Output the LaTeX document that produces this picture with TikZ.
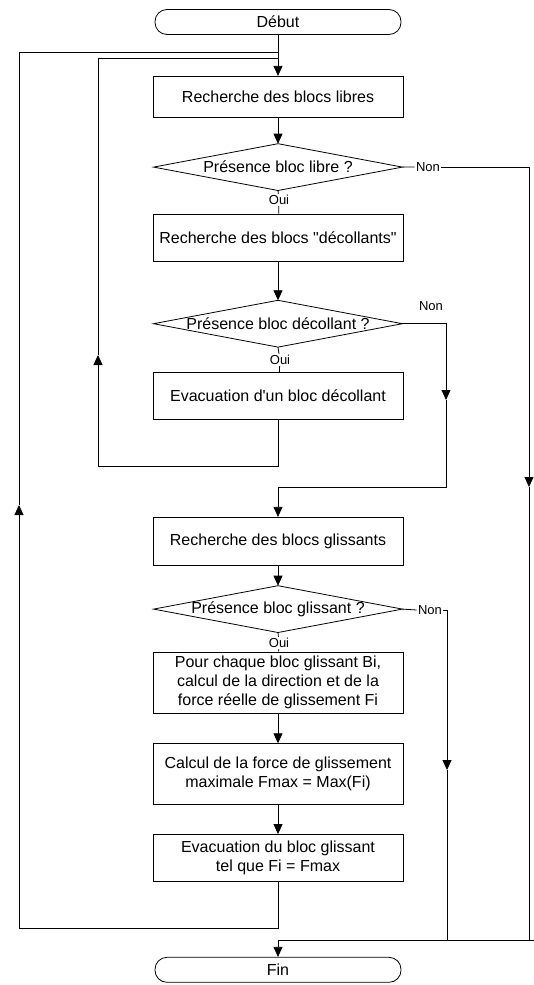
\documentclass[tikz,border=0pt]{standalone}
\usepackage{fontspec}
\setmainfont{Liberation Sans}[Ligatures=TeXOff]
\usepackage{tikz}
\usetikzlibrary{positioning, arrows.meta}

\begin{document}
\begin{tikzpicture}[x=1pt, y=-1pt, line width=0.8pt, >={Triangle[length=10pt,width=9pt]}]

		\tikzstyle{process} = [rectangle, draw, minimum width=250pt, minimum height=47pt, inner sep=3pt, align=center, font=\fontsize{16}{19}\selectfont]
		\tikzstyle{terminal} = [rectangle, draw, rounded corners=12pt, minimum width=246pt, minimum height=25pt, inner sep=2pt, font=\fontsize{16}{19}\selectfont]
		\tikzstyle{decision} = [rectangle, minimum width=248pt, minimum height=46pt, inner sep=0pt, font=\fontsize{16}{19}\selectfont]
		\tikzstyle{answer} = [inner sep=1pt, fill=white, font=\fontsize{13}{15}\selectfont]

		\useasboundingbox (0,0) rectangle (534,985);

		% Define nodes
		\node[terminal] (debut) at (278,22) {Début};
		\node[process, minimum height=41pt, below=41pt of debut] (libres) {Recherche des blocs libres};
		\node[decision, below=26pt of libres] (presLibre) {Présence bloc libre ?};
		\node[process, below=23pt of presLibre] (decollants) {Recherche des blocs "décollants"};
		\node[decision, below=39pt of decollants] (presDecol) {Présence bloc décollant ?};
		\node[process, below=25pt of presDecol] (evacDecol) {Evacuation d'un bloc décollant};
		\node[process, minimum height=48pt, below=97pt of evacDecol] (glissants) {Recherche des blocs glissants};
		\node[decision, below=20pt of glissants] (presGliss) {Présence bloc glissant ?};
		\node[process, minimum height=61pt, below=19pt of presGliss] (forces) {Pour chaque bloc glissant Bi,\\ calcul de la direction et de la\\ force réelle de glissement Fi};
		\node[process, minimum height=61pt, below=30pt of forces] (fmax) {Calcul de la force de glissement\\ maximale Fmax = Max(Fi)};
		\node[process, below=29pt of fmax] (evacGliss) {Evacuation du bloc glissant\\ tel que Fi = Fmax};
		\node[terminal, below=75pt of evacGliss] (fin) {Fin};

		% Diamonds
		\foreach \d in {presLibre, presDecol, presGliss}
			\draw (\d.west) -- (\d.north) -- (\d.east) -- (\d.south) -- cycle;

		% Labels
		\node[answer] (ouiLibre) at (279,200) {Oui};
		\node[answer] (ouiDecol) at (280,360) {Oui};
		\node[answer] (ouiGliss) at (279,643) {Oui};
		\node[answer] (nonLibre) at (428,167) {Non};
		\node[answer] (nonDecol) at (431,306) {Non};
		\node[answer] (nonGliss) at (430,610) {Non};

		% Corner points
		\coordinate (loopOut) at (19,52);
		\coordinate (loopIn) at (98,58);
		\coordinate (retDecol) at (98,466);
		\coordinate (upDecol) at (98,355);
		\coordinate (retGliss) at (19,928);
		\coordinate (upGliss) at (19,505);
		\coordinate (rightDown) at (529,487);
		\coordinate (rightBot) at (529,940);
		\coordinate (edgeBot) at (534,940);
		\coordinate (nonDecolDown) at (446,400);
		\coordinate (nonDecolBend) at (446,487);
		\coordinate (nonGlissDown) at (447,770);
		\coordinate (nonGlissBot) at (447,940);

		% Draw arrows
		\draw[->] (debut) -- (libres);
		\draw[->] (libres) -- (presLibre);
		\draw (presLibre.south) -- (ouiLibre) -- (decollants);
		\draw[->] (decollants) -- (presDecol);
		\draw (presDecol.south) -- (ouiDecol) -- (evacDecol);
		\draw[->] (glissants) -- (presGliss);
		\draw (presGliss.south) -- (ouiGliss) -- (forces);
		\draw[->] (forces) -- (fmax);
		\draw[->] (fmax) -- (evacGliss);

		% No branches
		\draw (presLibre.east) -- (nonLibre.west);
		\draw[->] (nonLibre.east) -| (rightDown);
		\draw (rightDown) -- (rightBot);
		\draw[->] (edgeBot) -| (fin.north);
		\draw[->] (presDecol.east) -| (nonDecolDown);
		\draw[->] (nonDecolDown) -- (nonDecolBend) -| (glissants.north);
		\draw (presGliss.east) -- (nonGliss.west);
		\draw[->] (nonGliss.east) -| (nonGlissDown);
		\draw (nonGlissDown) -- (nonGlissBot);

		% Loops back
		\draw (evacDecol.south) |- (retDecol);
		\draw[->] (retDecol) -- (upDecol);
		\draw (upDecol) -- (loopIn) -- (loopIn -| debut.south);
		\draw (evacGliss.south) |- (retGliss);
		\draw[->] (retGliss) -- (upGliss);
		\draw (upGliss) -- (loopOut) -- (loopOut -| debut.south);

	\end{tikzpicture}
\end{document}
